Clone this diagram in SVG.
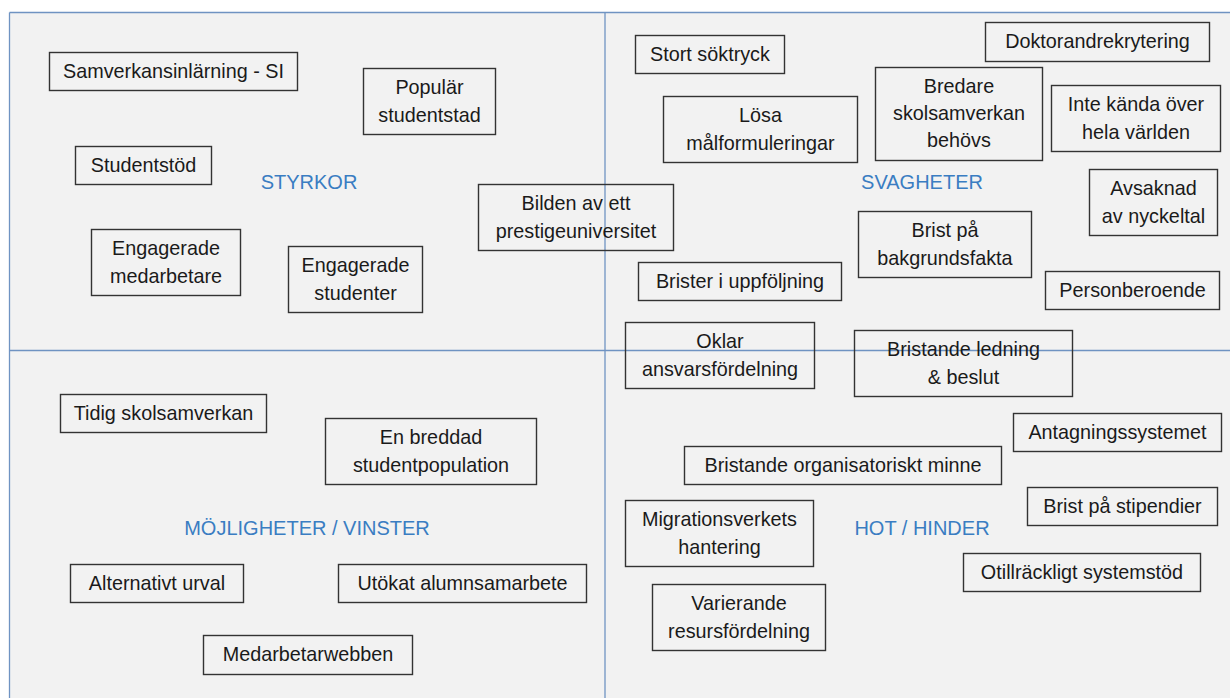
<svg xmlns="http://www.w3.org/2000/svg" width="1230" height="698" viewBox="0 0 1230 698">
<style>
.b{fill:none;stroke:#333;stroke-width:1.4}
.t{font-family:"Liberation Sans",Arial,sans-serif;font-size:19.8px;fill:#1a1a1a;text-anchor:middle}
.h{font-family:"Liberation Sans",Arial,sans-serif;font-size:20px;fill:#3a7dc2;text-anchor:middle}
.q{stroke:#6f93c2;stroke-width:1.3;fill:none}
</style>
<rect x="0" y="0" width="1230" height="698" fill="#ffffff"/>
<rect x="9.5" y="12.5" width="1225" height="690" fill="#f2f2f2"/>
<g id="quadrants">
<line class="q" x1="9.5" y1="12.5" x2="1230" y2="12.5"/>
<line class="q" x1="9.5" y1="12.5" x2="9.5" y2="698"/>
<line class="q" x1="605" y1="12.5" x2="605" y2="698"/>
<line class="q" x1="9.5" y1="350.5" x2="1230" y2="350.5"/>
</g>
<g id="labels">
<text class="h" x="309" y="189">STYRKOR</text>
<text class="h" x="922" y="189">SVAGHETER</text>
<text class="h" x="307" y="535">MÖJLIGHETER / VINSTER</text>
<text class="h" x="922" y="535">HOT / HINDER</text>
</g>
<g id="n1"><rect class="b" x="49.5" y="52.5" width="248" height="38"/><text class="t" x="173.5" y="78">Samverkansinlärning - SI</text></g>
<g id="n2"><rect class="b" x="363.5" y="68.5" width="132" height="66"/><text class="t" x="429.5" y="94">Populär</text><text class="t" x="429.5" y="122">studentstad</text></g>
<g id="n3"><rect class="b" x="75.5" y="146.5" width="136" height="38"/><text class="t" x="143.5" y="172">Studentstöd</text></g>
<g id="n4"><rect class="b" x="478.5" y="184.5" width="195" height="66"/><text class="t" x="576" y="210">Bilden av ett</text><text class="t" x="576" y="238">prestigeuniversitet</text></g>
<g id="n5"><rect class="b" x="91.5" y="229.5" width="149" height="66"/><text class="t" x="166" y="255">Engagerade</text><text class="t" x="166" y="283">medarbetare</text></g>
<g id="n6"><rect class="b" x="288.5" y="246.5" width="134" height="66"/><text class="t" x="355.5" y="272">Engagerade</text><text class="t" x="355.5" y="300">studenter</text></g>
<g id="n7"><rect class="b" x="635.5" y="35.5" width="149" height="38"/><text class="t" x="710" y="61">Stort söktryck</text></g>
<g id="n8"><rect class="b" x="985.5" y="22.5" width="224" height="39"/><text class="t" x="1097.5" y="48">Doktorandrekrytering</text></g>
<g id="n9"><rect class="b" x="663.5" y="96.5" width="194" height="66"/><text class="t" x="760.5" y="122">Lösa</text><text class="t" x="760.5" y="150">målformuleringar</text></g>
<g id="n10"><rect class="b" x="875.5" y="67.5" width="167" height="93"/><text class="t" x="959" y="93">Bredare</text><text class="t" x="959" y="120">skolsamverkan</text><text class="t" x="959" y="147">behövs</text></g>
<g id="n11"><rect class="b" x="1051.5" y="85.5" width="169" height="66"/><text class="t" x="1136" y="111">Inte kända över</text><text class="t" x="1136" y="139">hela världen</text></g>
<g id="n12"><rect class="b" x="1089.5" y="169.5" width="128" height="66"/><text class="t" x="1153.5" y="195">Avsaknad</text><text class="t" x="1153.5" y="223">av nyckeltal</text></g>
<g id="n13"><rect class="b" x="858.5" y="211.5" width="173" height="66"/><text class="t" x="945" y="237">Brist på</text><text class="t" x="945" y="265">bakgrundsfakta</text></g>
<g id="n14"><rect class="b" x="638.5" y="262.5" width="203" height="38"/><text class="t" x="740" y="288">Brister i uppföljning</text></g>
<g id="n15"><rect class="b" x="1045.5" y="271.5" width="174" height="38"/><text class="t" x="1132.5" y="297">Personberoende</text></g>
<g id="n16"><rect class="b" x="625.5" y="322.5" width="189" height="66"/><text class="t" x="720" y="348">Oklar</text><text class="t" x="720" y="376">ansvarsfördelning</text></g>
<g id="n17"><rect class="b" x="854.5" y="330.5" width="218" height="66"/><text class="t" x="963.5" y="356">Bristande ledning</text><text class="t" x="963.5" y="384">&amp; beslut</text></g>
<g id="n18"><rect class="b" x="1013.5" y="413.5" width="208" height="38"/><text class="t" x="1117.5" y="439">Antagningssystemet</text></g>
<g id="n19"><rect class="b" x="684.5" y="446.5" width="317" height="38"/><text class="t" x="843" y="472">Bristande organisatoriskt minne</text></g>
<g id="n20"><rect class="b" x="1027.5" y="487.5" width="190" height="38"/><text class="t" x="1122.5" y="513">Brist på stipendier</text></g>
<g id="n21"><rect class="b" x="625.5" y="500.5" width="188" height="66"/><text class="t" x="719.5" y="526">Migrationsverkets</text><text class="t" x="719.5" y="554">hantering</text></g>
<g id="n22"><rect class="b" x="963.5" y="553.5" width="237" height="38"/><text class="t" x="1082" y="579">Otillräckligt systemstöd</text></g>
<g id="n23"><rect class="b" x="652.5" y="584.5" width="173" height="66"/><text class="t" x="739" y="610">Varierande</text><text class="t" x="739" y="638">resursfördelning</text></g>
<g id="n24"><rect class="b" x="60.5" y="394.5" width="206" height="38"/><text class="t" x="163.5" y="420">Tidig skolsamverkan</text></g>
<g id="n25"><rect class="b" x="325.5" y="418.5" width="211" height="66"/><text class="t" x="431" y="444">En breddad</text><text class="t" x="431" y="472">studentpopulation</text></g>
<g id="n26"><rect class="b" x="70.5" y="564.5" width="173" height="38"/><text class="t" x="157" y="590">Alternativt urval</text></g>
<g id="n27"><rect class="b" x="338.5" y="564.5" width="248" height="38"/><text class="t" x="462.5" y="590">Utökat alumnsamarbete</text></g>
<g id="n28"><rect class="b" x="203.5" y="635.5" width="209" height="39"/><text class="t" x="308" y="661">Medarbetarwebben</text></g>
</svg>
